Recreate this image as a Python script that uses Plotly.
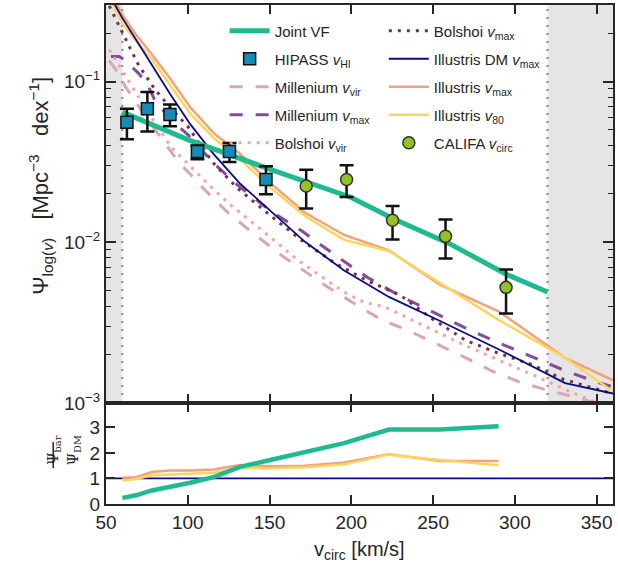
import plotly.graph_objects as go

# ---------------- data ----------------
# Illustris bins (km/s)
ill_x = [52.6, 60.0, 68.4, 78.0, 89.0, 101.5, 115.7, 131.9, 150.4, 171.5, 195.6, 223.0, 254.3, 290.0, 330.7, 377.0]
ill_dm_vmax = [0.339, 0.248, 0.182, 0.126, 0.0841, 0.0543, 0.0355, 0.0232, 0.0157, 0.0101, 0.00668, 0.00457, 0.00324, 0.00216, 0.00133, 0.00105]
ill_vmax = [0.355, 0.260, 0.195, 0.148, 0.105, 0.0692, 0.0479, 0.0355, 0.0234, 0.0153, 0.0111, 0.00891, 0.00543, 0.00372, 0.00191, 0.00115]
ill_v80 = [0.324, 0.229, 0.178, 0.138, 0.0955, 0.0631, 0.0447, 0.0329, 0.0219, 0.0146, 0.01035, 0.00883, 0.00557, 0.00329, 0.00191, 0.00089]

# Millenium
mill_vir_x = [52, 57, 62, 67, 75, 85, 95, 101, 110, 125, 140, 155, 170, 185, 200, 218, 235, 252, 270, 286, 303, 320, 340, 360]
mill_vir = [0.135, 0.115, 0.0923, 0.0776, 0.0589, 0.0427, 0.0309, 0.0269, 0.0214, 0.0151, 0.01135, 0.00861, 0.00676, 0.00531, 0.00427, 0.00331, 0.00282, 0.00234, 0.00191, 0.00158, 0.00135, 0.00120, 0.00107, 0.00091]
mill_max_x = [53, 58, 62, 66, 70, 75, 80, 90, 100, 115, 130, 150, 170, 190, 210, 230, 250, 270, 290, 310, 330, 350, 360]
mill_max = [0.143, 0.143, 0.135, 0.123, 0.112, 0.0977, 0.0759, 0.0575, 0.0468, 0.0316, 0.0229, 0.0158, 0.0117, 0.00832, 0.00603, 0.00462, 0.00367, 0.00292, 0.00237, 0.00195, 0.00160, 0.00135, 0.00126]

# Bolshoi
bol_vir_x = [52, 62, 75, 90, 107, 116, 125, 135, 145, 155, 166, 176, 186, 197, 208, 220, 231, 248, 265, 283, 300, 316, 332, 346, 360]
bol_vir = [0.158, 0.108, 0.0661, 0.0389, 0.0263, 0.0212, 0.0175, 0.0145, 0.0119, 0.00986, 0.00794, 0.00673, 0.00569, 0.00481, 0.00422, 0.00398, 0.00352, 0.00291, 0.00240, 0.00199, 0.00168, 0.00142, 0.00120, 0.00104, 0.00091]
bol_max_x = [52, 60, 70, 80, 90, 100, 115, 130, 150, 170, 190, 210, 230, 250, 270, 290, 310, 330, 350, 360]
bol_max = [0.295, 0.200, 0.126, 0.0891, 0.0676, 0.0525, 0.0316, 0.0219, 0.0148, 0.0102, 0.00741, 0.00575, 0.00468, 0.00331, 0.00245, 0.00204, 0.00174, 0.00140, 0.00122, 0.00114]

# Joint velocity function
joint_x = [60, 100, 150, 200, 225, 260, 295, 320]
joint_vf = [0.0645, 0.0435, 0.0285, 0.0190, 0.0141, 0.0098, 0.0063, 0.0049]

# HIPASS
hipass_x = [62.8, 75.3, 89.1, 105.9, 125.5, 147.8]
hipass_y = [0.0558, 0.0676, 0.0624, 0.0367, 0.0367, 0.0246]
hipass_hi = [0.0676, 0.0859, 0.0720, 0.0400, 0.0414, 0.0297]
hipass_lo = [0.0437, 0.0489, 0.0527, 0.0328, 0.0316, 0.0199]

# CALIFA
califa_x = [172.4, 197.1, 225.2, 257.6, 294.6]
califa_y = [0.0224, 0.0246, 0.0137, 0.0109, 0.00524]
califa_hi = [0.0283, 0.0301, 0.0168, 0.01384, 0.00676]
califa_lo = [0.0162, 0.0191, 0.0104, 0.00792, 0.0036]

# ratio panel
ratio_x = [60.0, 68.4, 78.0, 89.0, 101.5, 115.7, 131.9, 150.4, 171.5, 195.6, 223.0, 254.3, 290.0]
ratio_joint = [0.24, 0.34, 0.53, 0.66, 0.83, 1.05, 1.45, 1.72, 2.03, 2.38, 2.91, 2.91, 3.04]
ratio_vmax = [1.03, 1.05, 1.25, 1.31, 1.31, 1.35, 1.53, 1.48, 1.50, 1.62, 1.95, 1.68, 1.68]
ratio_v80 = [0.92, 0.98, 1.12, 1.15, 1.17, 1.22, 1.42, 1.40, 1.44, 1.55, 1.93, 1.72, 1.52]
ratio_dm_x = [50, 360]
ratio_dm = [1, 1]

x_ticks = [50, 100, 150, 200, 250, 300, 350]
y_ticks = [1e-3, 1e-2, 1e-1]
y_ticktext = ["10<sup>−3</sup>", "10<sup>−2</sup>", "10<sup>−1</sup>"]
y_minor = [m * 10 ** e for e in (-3, -2, -1) for m in range(2, 10) if m * 10 ** e < 0.3]
r_ticks = [0, 1, 2, 3]
shade_lo = [50, 60]
shade_hi = [320, 360]

# ---------------- style ----------------
C_JOINT = "#1fba8e"
C_HIPASS = "#168bb5"
C_CALIFA = "#93c31f"
C_MVIR = "#d8a6b8"
C_MMAX = "#874b9c"
C_BVIR = "#f7a3a3"
C_BMAX = "#7a2e48"
C_DM = "#0b0b85"
C_IVMAX = "#f6a07c"
C_IV80 = "#fdd55e"
AX = "#262626"
FONT = "Liberation Sans, Arial, sans-serif"

fig = go.Figure()

def line(x, y, name, color, width, dash="solid", legend="legend", rank=1, xa="x", ya="y", show=True):
    fig.add_trace(go.Scatter(x=x, y=y, mode="lines", name=name,
                             line=dict(color=color, width=width, dash=dash),
                             legend=legend, legendrank=rank, showlegend=show,
                             legendgroup=name or None,
                             xaxis=xa, yaxis=ya, hoverinfo="skip"))

# model curves (top)
line(mill_vir_x, mill_vir, "Millenium <i>v</i><sub>vir</sub>", C_MVIR, 3, "13px,13px", "legend", 3)
line(mill_max_x, mill_max, "Millenium <i>v</i><sub>max</sub>", C_MMAX, 3, "13px,13px", "legend", 4)
line(bol_vir_x, bol_vir, "Bolshoi <i>v</i><sub>vir</sub>", C_BVIR, 3, "3px,6px", "legend", 5)
line(bol_max_x, bol_max, "Bolshoi <i>v</i><sub>max</sub>", C_BMAX, 3, "3px,6px", "legend2", 1)
line(ill_x, ill_vmax, "Illustris <i>v</i><sub>max</sub>", C_IVMAX, 2.5, "solid", "legend2", 3)
line(ill_x, ill_v80, "Illustris <i>v</i><sub>80</sub>", C_IV80, 2.5, "solid", "legend2", 4)
line(ill_x, ill_dm_vmax, "Illustris DM <i>v</i><sub>max</sub>", C_DM, 1.8, "solid", "legend2", 2)
line(joint_x, joint_vf, "Joint VF", C_JOINT, 5, "solid", "legend", 1)

fig.add_trace(go.Scatter(
    x=hipass_x, y=hipass_y, mode="markers", name="HIPASS <i>v</i><sub>HI</sub>",
    legendgroup="hipass",
    marker=dict(symbol="square", size=12, color=C_HIPASS, line=dict(color="#111111", width=1.5)),
    error_y=dict(type="data", symmetric=False,
                 array=[h - v for h, v in zip(hipass_hi, hipass_y)],
                 arrayminus=[v - l for l, v in zip(hipass_lo, hipass_y)],
                 color="#111111", thickness=2.5, width=7),
    legend="legend", legendrank=2, hoverinfo="skip"))
fig.add_trace(go.Scatter(
    x=califa_x, y=califa_y, mode="markers", name="CALIFA <i>v</i><sub>circ</sub>",
    legendgroup="califa",
    marker=dict(symbol="circle", size=12, color=C_CALIFA, line=dict(color="#333333", width=1.5)),
    error_y=dict(type="data", symmetric=False,
                 array=[h - v for h, v in zip(califa_hi, califa_y)],
                 arrayminus=[v - l for l, v in zip(califa_lo, califa_y)],
                 color="#111111", thickness=2.5, width=7),
    legend="legend2", legendrank=5, hoverinfo="skip"))

# ratio panel
line(ratio_dm_x, ratio_dm, "", C_DM, 1.8, xa="x2", ya="y2", show=False)
line(ratio_x, ratio_vmax, "", C_IVMAX, 2.5, xa="x2", ya="y2", show=False)
line(ratio_x, ratio_v80, "", C_IV80, 2.5, xa="x2", ya="y2", show=False)
line(ratio_x, ratio_joint, "", C_JOINT, 4.5, xa="x2", ya="y2", show=False)

# shading and limits
for a, b in (shade_lo, shade_hi):
    fig.add_shape(type="rect", xref="x", yref="y domain", x0=a, x1=b, y0=0, y1=1,
                  fillcolor="#e5e5e5", line=dict(width=0), layer="below")
for v in (shade_lo[1], shade_hi[0]):
    fig.add_shape(type="line", xref="x", yref="y domain", x0=v, x1=v, y0=0, y1=1,
                  line=dict(color="#8a8a8a", width=2, dash="2px,6px"), layer="below")

axis_common = dict(showline=True, linecolor=AX, linewidth=2, mirror="ticks", ticks="inside",
                   tickcolor=AX, tickwidth=1.5, showgrid=False, zeroline=False,
                   tickfont=dict(family=FONT, size=19, color=AX))

SPLIT = 0.2024
fig.update_layout(
    width=618, height=565,
    margin=dict(l=106, r=3, t=5, b=61),
    paper_bgcolor="white", plot_bgcolor="white",
    font=dict(family=FONT, color=AX),
    xaxis=dict(domain=[0, 1], anchor="y", range=[50, 360], tickvals=x_ticks,
               showticklabels=False, ticklen=9, **axis_common),
    yaxis=dict(domain=[SPLIT, 1], anchor="x", type="log", range=[-3, -0.524],
               tickvals=y_ticks, ticktext=y_ticktext, ticklen=10,
               minor=dict(tickvals=y_minor, ticks="inside", ticklen=5, tickcolor=AX, tickwidth=1.2),
               **axis_common),
    xaxis2=dict(domain=[0, 1], anchor="y2", range=[50, 360], tickvals=x_ticks,
                ticklen=9, **axis_common),
    yaxis2=dict(domain=[0, SPLIT], anchor="x2", range=[0, 3.95], tickvals=r_ticks,
                ticklen=9, **axis_common),
    legend=dict(x=0.234, y=0.981, xanchor="left", yanchor="top", bgcolor="rgba(0,0,0,0)",
                font=dict(family=FONT, size=15, color=AX), itemwidth=40, tracegroupgap=5.5),
    legend2=dict(x=0.548, y=0.981, xanchor="left", yanchor="top", bgcolor="rgba(0,0,0,0)",
                 font=dict(family=FONT, size=15, color=AX), itemwidth=40, tracegroupgap=5.5),
    showlegend=True,
)

ann = []
ann.append(dict(text="Ψ<sub>log(<i>v</i>)</sub>   [Mpc<sup>−3</sup>   dex<sup>−1</sup>]",
                xref="paper", yref="paper", x=(22 - 106) / 509, y=(504 - 186) / 499,
                textangle=-90, showarrow=False, font=dict(family=FONT, size=22, color=AX)))
ann.append(dict(text="v<sub>circ</sub> [km/s]", xref="paper", yref="paper",
                x=0.5, y=(504 - 565) / 499, yanchor="bottom", showarrow=False,
                font=dict(family=FONT, size=20, color=AX)))
ann.append(dict(text="Ψ<sub>bar</sub>", xref="paper", yref="paper", x=(42 - 106) / 509,
                y=(504 - 467) / 499, textangle=-90, showarrow=False,
                font=dict(family="DejaVu Serif, serif", size=14, color=AX)))
ann.append(dict(text="Ψ<sub>DM</sub>", xref="paper", yref="paper", x=(63 - 106) / 509,
                y=(504 - 467) / 499, textangle=-90, showarrow=False,
                font=dict(family="DejaVu Serif, serif", size=14, color=AX)))
fig.update_layout(annotations=ann)
fig.add_shape(type="line", xref="paper", yref="paper", x0=(53 - 106) / 509, x1=(53 - 106) / 509,
              y0=(504 - 442) / 499, y1=(504 - 468) / 499, line=dict(color=AX, width=1.5))

fig.write_html("out.html", config={"displayModeBar": False},
               post_script="document.body.style.margin='0px';document.body.style.overflow='hidden';")
